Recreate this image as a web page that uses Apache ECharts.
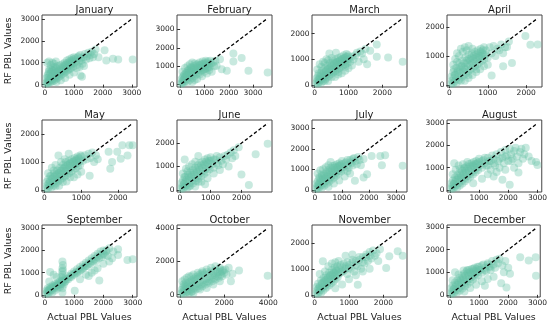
<!DOCTYPE html>
<html><head><meta charset="utf-8">
<script src="https://cdn.jsdelivr.net/npm/echarts@6/dist/echarts.min.js"></script>
<style>html,body{margin:0;padding:0;background:#fff}#c{width:550px;height:324px}</style>
</head><body><div id="c"></div>
<script>
const months = ["January","February","March","April","May","June","July","August","September","October","November","December"];
const xLabel = "Actual PBL Values";
const yLabel = "RF PBL Values";
const ticks1k3 = [0,1000,2000,3000];
const ticks1k2 = [0,1000,2000];
const ticks2k = [0,2000,4000];
const monthTicks = [ticks1k3,ticks1k3,ticks1k2,ticks1k2,ticks1k2,ticks1k2,ticks1k3,ticks1k3,ticks1k3,ticks2k,ticks1k2,ticks1k3];

const jan = [[50,60],[70,120],[90,40],[110,200],[130,90],[150,160],[170,260],[190,110],[210,330],[230,200],[250,140],[270,400],[290,260],[310,180],[330,480],[350,330],[370,230],[390,560],[410,400],[430,300],[450,620],[470,470],[490,360],[510,700],[530,540],[550,420],[570,760],[590,600],[610,480],[630,830],[650,660],[670,540],[690,900],[710,720],[730,600],[750,950],[770,780],[790,650],[810,1000],[830,850],[850,700],[870,1050],[890,900],[910,760],[930,1100],[950,950],[970,820],[990,1150],
[80,1000],[140,1050],[200,900],[260,1000],[320,950],[380,1050],[150,700],[250,650],[350,800],[120,500],[220,550],
[400,120],[550,200],[700,300],[850,450],[1000,550],[1230,420],[1280,360],
[1020,1000],[1060,1200],[1100,900],[1140,1250],[1180,1050],[1220,1350],[1260,1100],[1300,950],[1340,1250],[1380,1400],[1420,1150],[1460,1300],[1500,1450],[1540,1200],[1580,1350],[1620,1500],[1660,1250],[1700,1400],[1100,750],[1200,800],[1350,850],
[60,300],[90,420],[120,330],[140,600],[180,480],[200,700],[240,380],[280,620],[300,780],[330,650],[360,520],[400,720],[440,850],[480,560],[520,880],[560,660],[600,930],[640,720],[680,1000],[720,850],[760,1100],[800,900],[840,1150],[880,980],[920,1200],[960,1050],[1000,1250],[1080,1100],[1160,1300],[1240,1200],
[1750,1600],[2060,1570],[1850,1250],[2120,1100],[2350,1180],[2530,1150],[3030,1150]];

const feb = [[50,50],[80,150],[100,80],[130,250],[160,120],[190,350],[220,200],[250,450],[280,300],[310,150],[340,550],[370,400],[400,250],[430,650],[460,500],[490,350],[520,750],[550,600],[580,450],[610,850],[640,700],[670,550],[700,950],[730,800],[760,650],[790,1050],[820,900],[850,750],[880,1100],[910,950],[940,800],[970,1150],[1000,1000],[1030,850],[1060,1200],[1090,1050],[1120,900],[1150,1250],[1180,1100],[1210,950],[1240,1300],[1270,1150],
[100,700],[200,900],[300,1000],[400,1100],[500,1200],[350,800],[450,950],[600,1150],[250,650],[150,500],
[500,150],[700,300],[900,450],[1100,600],[1300,700],[800,550],[1000,700],[600,250],[1200,800],
[70,300],[110,400],[150,250],[180,550],[220,450],[260,600],[300,500],[330,750],[370,650],[410,850],[450,700],[480,900],[520,800],[560,1000],[600,900],[640,1050],[680,800],[720,1100],[760,900],[800,1200],[840,1050],[880,900],[920,1250],[960,1100],[1000,850],[1050,1300],[1100,1150],[1180,1000],
[1350,1200],[1400,1000],[1450,1300],[1500,1020],[1640,1380],[1710,840],[1920,750],
[2190,1690],[2190,1260],[2530,1440],[2810,750],[3600,660]];

const mar = [[50,60],[70,140],[90,40],[110,220],[130,100],[150,300],[170,170],[190,70],[210,380],[230,250],[250,150],[270,450],[290,320],[310,220],[330,520],[350,400],[370,280],[390,600],[410,470],[430,350],[450,650],[470,530],[490,420],[510,720],[530,600],[550,480],[570,780],[590,660],[610,540],[630,850],[650,720],[670,600],[690,900],[710,780],[730,650],[750,950],[770,830],[790,700],[810,1000],[830,880],[850,760],[870,1050],[890,930],[910,800],[930,1100],[950,980],[970,850],[990,1150],[1010,1020],[1050,900],[1100,1100],[1150,1000],[1200,1150],
[80,600],[150,800],[250,900],[350,1000],[435,1220],[630,1250],[200,700],[300,850],[400,950],[500,1050],[120,450],
[400,150],[600,300],[800,450],[1000,650],[1100,750],[700,400],[900,550],
[60,250],[100,350],[140,200],[180,450],[220,550],[260,350],[300,650],[340,550],[380,750],[420,650],[460,850],[500,750],[540,950],[580,850],[620,1000],[660,900],[700,1050],[740,950],[780,1100],[820,1000],[860,1150],[900,1050],[940,1200],[980,1100],[300,150],[500,300],[700,500],[900,700],
[1250,1250],[1300,900],[1350,1300],[1400,1220],[1450,1000],[1500,1400],[1640,1330],[1550,800],
[1835,1570],[1835,1100],[2170,1070],[2600,900]];

const apr = [[50,60],[70,150],[90,50],[110,250],[130,120],[150,350],[170,200],[190,80],[210,450],[230,300],[250,180],[270,550],[290,400],[310,260],[330,650],[350,480],[370,330],[390,750],[410,560],[430,400],[450,850],[470,640],[490,480],[510,900],[530,700],[550,540],[570,950],[590,760],[610,600],[630,1000],[650,820],[670,660],[690,1050],[710,880],[730,720],[750,1100],[770,940],[790,780],[810,1150],[830,1000],[850,840],[870,1200],[890,1050],[910,900],
[100,700],[150,900],[200,1100],[300,1250],[400,1300],[500,1350],[250,1000],[350,1150],[450,1200],[600,1250],[120,550],[200,800],
[400,150],[500,250],[600,350],[700,450],[800,550],[900,650],[1000,700],
[60,300],[100,450],[140,350],[180,600],[220,500],[260,750],[300,650],[340,850],[380,600],[420,950],[460,750],[500,1050],[540,850],[580,1100],[620,900],[660,1150],[700,950],[740,1200],[780,1000],[820,1250],[860,1100],[900,1300],[940,1050],[300,150],[500,350],[700,550],
[950,1200],[1000,950],[1050,1300],[1100,1100],[1150,1350],[1200,1000],[1250,1250],[1300,1200],[1350,1400],[1400,1100],[1450,1300],[1500,1310],[1100,330],[1400,650],[1630,765],[1550,1500],
[1980,1690],[2110,1390],[2300,1400]];

const may = [[50,60],[70,150],[90,40],[110,230],[130,110],[150,320],[170,190],[190,80],[210,400],[230,270],[250,160],[270,480],[290,340],[310,230],[330,550],[350,410],[370,300],[390,620],[410,480],[430,360],[450,690],[470,550],[490,420],[510,760],[530,610],[550,480],[570,820],[590,680],[610,540],[630,880],[650,740],[670,600],[690,940],[710,800],[730,660],[750,1000],[770,860],[790,720],[810,1050],[830,920],[850,780],[870,1100],[890,970],[910,840],[930,1150],[950,1020],[970,900],[1000,1200],[1050,1050],[1100,1250],[1150,1100],[1200,1300],
[100,600],[200,800],[300,900],[380,1240],[660,1300],[150,500],[250,700],[450,1000],[550,1100],
[400,150],[600,300],[800,450],[1000,650],[1230,510],[900,550],
[60,280],[100,380],[140,250],[180,500],[220,420],[260,600],[300,520],[340,700],[380,600],[420,800],[460,700],[500,900],[540,800],[580,1000],[620,900],[660,1050],[700,950],[740,1100],[780,1000],[820,1150],[860,1050],[900,1200],[940,1100],[980,1250],[300,130],[500,280],[700,450],
[1250,1150],[1300,1350],[1350,1000],[1400,1250],[1450,1100],[1745,1370],[1790,760],[1840,1000],
[1980,1370],[2075,1120],[2120,1610],[2260,1240],[2310,1610],[2400,1610]];

const jun = [[50,60],[80,150],[100,50],[130,250],[160,120],[190,350],[220,200],[250,100],[280,450],[310,300],[340,180],[370,550],[400,400],[430,280],[460,650],[490,500],[520,380],[550,750],[580,600],[610,480],[640,850],[670,700],[700,580],[730,950],[760,800],[790,680],[820,1050],[850,900],[880,780],[910,1150],[940,1000],[970,880],[1000,1250],[1050,1100],[1100,950],[1150,1300],[1200,1150],[1250,1050],[1300,1400],[1350,1250],[1400,1100],[1450,1450],[1500,1300],
[160,1300],[600,1450],[100,700],[200,900],[300,1000],[400,1100],[500,1200],[250,800],[150,550],
[820,240],[500,150],[700,350],[900,500],[1100,700],[1300,850],
[60,300],[100,400],[140,250],[180,550],[220,450],[260,650],[300,550],[340,750],[380,650],[420,850],[460,750],[500,950],[540,850],[580,1050],[620,950],[660,1150],[700,1050],[740,1200],[780,1100],[820,1300],[860,1200],[900,1350],[950,1250],[1000,1400],[1100,1300],[1200,1450],[300,150],[600,350],
[1550,1500],[1585,1000],[1650,1600],[1700,1350],[1750,1700],[1800,1450],[1910,1820],[2000,660],
[2240,210],[2460,1520],[2850,1970]];

const jul = [[50,60],[80,160],[100,50],[130,260],[160,120],[190,360],[220,210],[250,100],[280,460],[310,310],[340,190],[370,560],[400,410],[430,290],[460,660],[490,510],[520,390],[550,760],[580,610],[610,490],[640,860],[670,710],[700,590],[730,960],[760,810],[790,690],[820,1060],[850,910],[880,790],[910,1160],[940,1010],[970,890],[1000,1260],[1050,1110],[1100,990],[1150,1350],[1200,1200],[1250,1080],[1300,1450],[1350,1300],[1400,1180],[1450,1550],[1500,1400],[1550,1250],[1600,1600],
[580,1360],[100,800],[200,950],[300,1000],[400,1100],[500,1200],[150,600],[250,750],
[500,150],[700,300],[900,450],[1100,650],[1480,440],[1300,800],[1200,900],
[60,300],[100,420],[140,260],[180,560],[220,460],[260,660],[300,560],[340,760],[380,660],[420,860],[460,760],[500,960],[540,860],[580,1060],[620,960],[660,1160],[700,1060],[740,1200],[780,1100],[820,1250],[860,1150],[900,1300],[950,1200],[1000,1400],[1100,1300],[1200,1450],[1300,1350],[1400,1500],
[1650,1450],[1700,1200],[1800,600],[1930,760],[1800,1500],[2100,1650],
[2420,1650],[2480,1200],[2600,1690],[3250,1170]];

const aug = [[50,60],[80,160],[100,50],[130,260],[160,120],[190,360],[220,210],[250,100],[280,460],[310,310],[340,190],[370,560],[400,410],[430,290],[460,660],[490,510],[520,390],[550,760],[580,610],[610,490],[640,860],[670,710],[700,590],[730,960],[760,810],[790,690],[820,1060],[850,910],[880,790],[910,1160],[940,1010],[970,890],[1000,1260],[1050,1110],[1100,990],[1150,1350],[1200,1200],
[150,1200],[300,1100],[450,1150],[600,1250],[200,900],[350,950],[500,1000],[100,700],
[60,300],[100,420],[140,260],[180,560],[220,460],[260,660],[300,560],[340,760],[380,660],[420,860],[460,760],[500,960],[540,860],[580,1060],[620,960],[660,1160],[700,1060],[740,1200],[780,1100],[820,1250],[860,1150],[900,1300],[950,1200],[1000,1400],[1100,1300],[1200,1450],[1300,1100],[1400,1300],[1500,1200],[1700,1400],[1900,1500],[2100,1300],
[1250,1080],[1300,1450],[1350,1300],[1400,900],[1450,1550],[1500,1400],[1550,1100],[1600,1600],[1650,1300],[1700,1000],[1750,1700],[1800,1450],[1850,1200],[1900,1800],[1950,1550],[2000,1300],[2050,1850],[2100,1600],[2150,1400],[2200,1750],[2250,1900],[2300,1500],[2350,1200],[2400,1700],[2450,1850],[2500,1400],[2550,1600],[2600,1900],[1300,700],[1600,800],[1900,900],[2200,1000],[2350,780],[1500,600],
[2050,230],[1800,450],[800,300],[1100,500],
[2700,1500],[2800,1300],[3000,1120],[2950,1250]];

const sep = [[50,60],[80,140],[100,50],[130,220],[160,120],[190,280],[220,200],[250,100],[280,350],[310,280],[340,200],[370,420],[400,360],[430,280],[460,500],[490,430],[520,350],[550,570],[580,500],[600,100],[600,300],[600,600],[600,900],[600,1200],[600,1500],[620,1350],[590,1050],[610,750],[640,650],[670,580],[700,750],[750,700],[800,850],[850,800],[900,950],[950,900],[1000,1050],[1050,1000],[1100,1150],[1150,1050],[1200,1250],[1250,1150],[1300,1350],[1350,1250],[1400,1450],[1450,1300],[1500,1550],[1550,1400],[1600,1650],[1650,1500],[1700,1750],[1750,1550],[1800,1850],[1850,1650],[1900,1950],[1950,1700],[2000,2000],[2050,1800],[2100,1950],[2150,1750],[2200,2100],
[180,1030],[300,900],[400,800],[150,600],
[60,200],[100,300],[140,180],[180,350],[220,280],[260,420],[300,330],[340,480],[380,400],[420,520],[460,450],[500,600],[540,480],[580,650],[560,800],[620,1100],[640,450],[700,600],[800,700],[900,800],[1000,900],[1100,1000],[1200,1100],[1300,1200],[1400,1300],[1500,1400],[1600,1500],[1700,1600],[1800,1700],[1900,1800],[2000,1850],[2100,2000],
[1020,185],[1200,700],[1400,900],[1600,1000],[1800,1200],[1860,650],[2000,1400],[2200,1500],[2300,1650],[2500,1800],[1700,1100],[1500,850],
[2340,1950],[2500,2050],[2820,1570],[3000,1600]];

const oct = [[50,60],[100,150],[150,50],[200,250],[250,120],[300,350],[350,200],[400,100],[450,450],[500,300],[550,200],[600,550],[650,400],[700,300],[750,650],[800,500],[850,400],[900,750],[950,600],[1000,500],[1050,850],[1100,700],[1150,600],[1200,950],[1250,800],[1300,700],[1350,1050],[1400,900],[1450,800],[1500,1150],[1550,1000],[1600,900],[1650,1250],[1700,1100],[1750,1000],[1800,1350],[1850,1200],[1900,1100],[1950,1450],[2000,1300],
[100,800],[200,900],[300,1000],[400,1100],[500,1100],[150,600],[250,700],[600,1200],[800,1300],[1000,1400],[1200,1500],[1400,1600],[1600,1700],[1800,1600],
[80,300],[130,450],[180,350],[230,550],[280,450],[330,650],[380,550],[430,750],[480,650],[530,850],[580,750],[630,950],[680,850],[730,1050],[780,950],[830,1150],[880,1050],[930,1250],[980,1150],[1030,1300],[1100,1200],[1200,1350],[1300,1250],[1400,1400],[1500,1300],[1600,1450],[1700,1350],[1800,1500],[1900,1400],[300,150],[500,150],
[600,100],[900,300],[1200,400],[1500,600],[1800,800],
[2050,1500],[2100,1200],[2200,1600],[2370,1240],[2300,800],
[2670,1440],[3970,1120]];

const nov = [[50,60],[70,150],[90,40],[110,240],[130,110],[150,330],[170,190],[190,80],[210,410],[230,280],[250,160],[270,490],[290,350],[310,240],[330,570],[350,420],[370,310],[390,640],[410,500],[430,380],[450,710],[470,570],[490,450],[510,780],[530,640],[550,520],[570,850],[590,710],[610,590],[630,920],[650,780],[670,660],[700,990],[750,850],[800,1050],[850,920],[900,1100],[950,800],[1000,1150],[1050,1000],[1100,1250],[1150,900],[1200,1300],[1250,1100],[1300,1350],[1350,1000],[1400,1450],[1450,1200],[1500,1550],[1550,1300],[1600,1650],[1650,1400],[1700,1700],[1750,1500],[1800,1600],[1850,1300],[1900,1750],
[240,1290],[400,1100],[500,1200],[600,1250],[150,800],[300,900],[700,1300],[900,1500],[1100,1550],
[60,300],[100,420],[140,260],[180,550],[220,460],[260,650],[300,560],[340,750],[380,660],[420,850],[460,760],[500,950],[540,860],[580,1050],[620,960],[660,1100],[700,800],[750,1150],[800,900],[850,1200],[900,1000],[950,1250],[1000,1050],[1100,1350],[1200,1150],[1300,1450],[1400,1250],[1500,1450],[1600,1500],
[1255,390],[600,250],[800,400],[1000,600],[1200,750],[1400,900],[1600,1000],
[2080,1030],[2170,1480],[2415,1680],[2560,1500]];

const dec = [[50,60],[80,150],[100,50],[130,250],[160,120],[190,350],[220,200],[250,100],[280,450],[310,300],[340,180],[370,550],[400,400],[430,280],[460,650],[490,500],[520,380],[550,750],[580,600],[610,480],[640,850],[670,700],[700,580],[730,950],[760,800],[790,680],[820,1050],[850,900],[880,780],[910,1150],[940,1000],[970,880],[1000,1250],[1050,1100],[1100,980],[1150,1350],[1200,1200],[1250,1050],[1300,1400],[1350,1250],[1400,1100],[1450,1500],[1500,1350],[1550,1200],[1600,1550],[1650,1400],[1700,1600],
[180,1000],[470,1075],[300,900],[600,1100],[100,650],[800,1150],
[60,300],[100,420],[140,260],[180,550],[220,460],[260,650],[300,560],[340,750],[380,660],[420,850],[460,760],[500,950],[540,860],[580,1050],[620,960],[660,1100],[700,1000],[750,1150],[800,950],[850,1200],[900,1050],[950,1250],[1000,1100],[1100,1300],[1200,1100],[1300,1350],[1400,1250],
[500,150],[700,300],[900,450],[1100,600],[1300,700],[1500,800],[1760,510],[1940,330],[1200,400],
[1800,1300],[1850,1000],[2060,930],[1900,1500],[2000,1200],
[2410,1670],[2700,1520],[2940,1670],[2950,850]];

const monthData = [jan,feb,mar,apr,may,jun,jul,aug,sep,oct,nov,dec];

const colLeft = [42,177,312,447];
const rowTop = [15,120,225];
const gw = 95, gh = 72;
const FONT = "DejaVu Sans";

const grids=[], xAxes=[], yAxes=[], series=[], titles=[];
monthData.forEach((pts,i)=>{
  const col=i%4, row=Math.floor(i/4);
  grids.push({left:colLeft[col], top:rowTop[row], width:gw, height:gh, show:true, borderColor:'#444', borderWidth:1, backgroundColor:'transparent'});
  const xs=pts.map(p=>p[0]), ys=pts.map(p=>p[1]);
  const lo=Math.min(...xs), hi=Math.max(...xs);
  const xm=(hi-lo)*0.05;
  const ylo=Math.min(lo,...ys), yhi=Math.max(hi,...ys);
  const ym=(yhi-ylo)*0.05;
  const tk=monthTicks[i];
  const common = {
    type:'value', gridIndex:i, splitLine:{show:false},
    axisLine:{show:false},
    axisTick:{show:true, inside:false, length:3, lineStyle:{color:'#333', width:1}, customValues:tk},
    axisLabel:{fontSize:7.5, color:'#1a1a1a', fontFamily:FONT, margin:2.5, customValues:tk, hideOverlap:false, formatter:(v)=>String(v)},
    nameTextStyle:{fontSize:9.5, color:'#1a1a1a', fontFamily:FONT},
    nameMoveOverlap:false
  };
  xAxes.push(Object.assign({}, common, {min:lo-xm, max:hi+xm,
    name: row===2? xLabel:'', nameLocation:'middle', nameGap:16}));
  yAxes.push(Object.assign({}, common, {min:ylo-ym, max:yhi+ym,
    name: col===0? yLabel:'', nameLocation:'middle', nameGap:28}));
  series.push({type:'scatter', xAxisIndex:i, yAxisIndex:i, data:pts, symbolSize:8,
    itemStyle:{color:'#66c2a5', opacity:0.36}, silent:true});
  series.push({type:'line', xAxisIndex:i, yAxisIndex:i, data:[[lo,lo],[hi,hi]], symbol:'none', silent:true, z:5,
    lineStyle:{color:'#000', width:1.3, type:[3.5,2.2]}});
  titles.push({text:months[i], left:colLeft[col]+gw/2, top:rowTop[row]-15, textAlign:'center',
    textStyle:{fontSize:10, fontWeight:'normal', color:'#1a1a1a', fontFamily:FONT}});
});

const chart = echarts.init(document.getElementById('c'), null, {renderer:'canvas'});
chart.setOption({animation:false, backgroundColor:'#fff', title:titles, grid:grids, xAxis:xAxes, yAxis:yAxes, series:series});
</script>
</body></html>
